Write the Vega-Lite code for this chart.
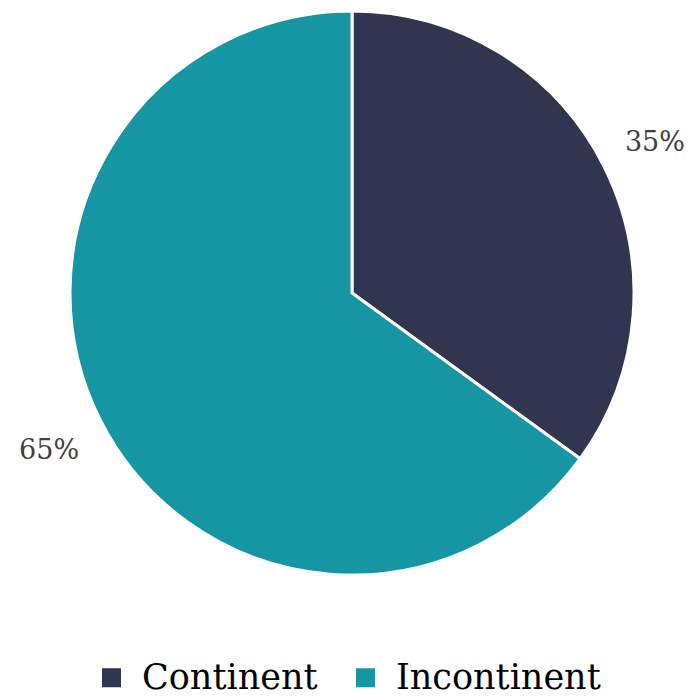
{
  "$schema": "https://vega.github.io/schema/vega-lite/v6.json",
  "width": 564,
  "height": 564,
  "autosize": {"type": "none"},
  "padding": {"left": 70, "top": 11, "right": 60, "bottom": 122},
  "background": "white",
  "config": {"view": {"stroke": null}},
  "data": {
    "values": [
      {"category": "Continent", "value": 35, "label": "35%", "order": 1},
      {"category": "Incontinent", "value": 65, "label": "65%", "order": 2}
    ]
  },
  "encoding": {
    "theta": {"field": "value", "type": "quantitative", "stack": true},
    "order": {"field": "order", "type": "quantitative"}
  },
  "layer": [
    {
      "mark": {"type": "arc", "outerRadius": 282, "stroke": "white", "strokeWidth": 3},
      "encoding": {
        "color": {
          "field": "category",
          "type": "nominal",
          "sort": ["Continent", "Incontinent"],
          "scale": {"domain": ["Continent", "Incontinent"], "range": ["#31354F", "#1696A3"]},
          "legend": {
            "title": null,
            "orient": "none",
            "direction": "horizontal",
            "legendX": 24,
            "legendY": 649,
            "symbolType": "square",
            "symbolSize": 361,
            "symbolStrokeWidth": 0,
            "labelFont": "DejaVu Serif",
            "labelFontSize": 35,
            "labelColor": "#000000",
            "labelOffset": 13,
            "columnPadding": 30,
            "labelLimit": 400
          }
        }
      }
    },
    {
      "mark": {"type": "text", "radius": 340, "dy": 4, "font": "DejaVu Serif", "fontSize": 27, "color": "#404040"},
      "encoding": {
        "text": {"field": "label", "type": "nominal"}
      }
    }
  ]
}
